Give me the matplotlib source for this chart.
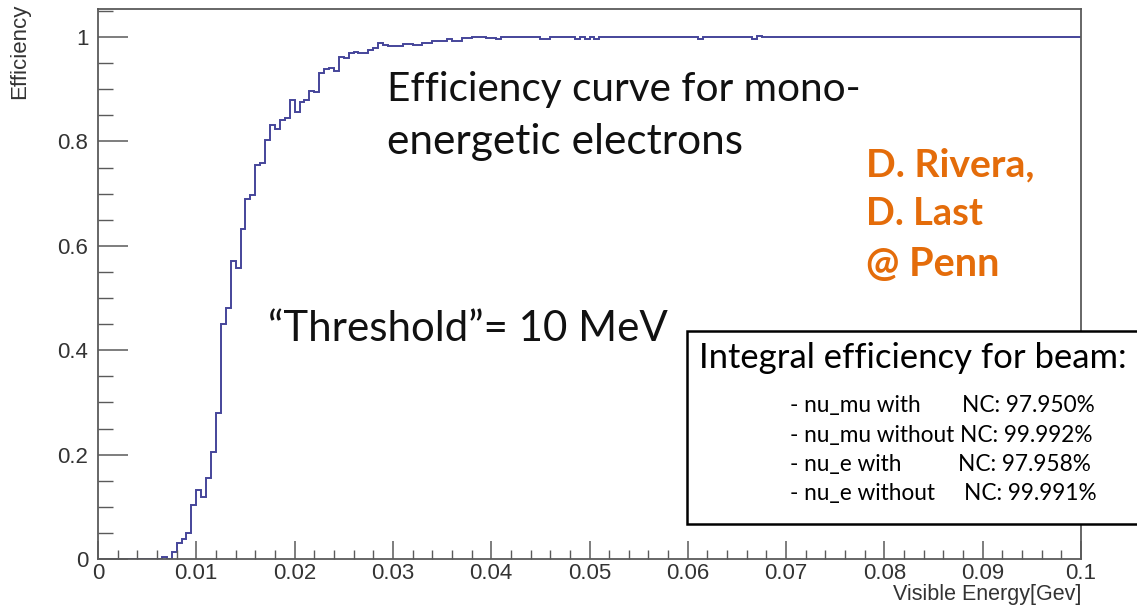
import numpy as np
import matplotlib
matplotlib.use("Agg")
import matplotlib.pyplot as plt
from matplotlib.ticker import MultipleLocator, FixedFormatter, FixedLocator
from matplotlib.patches import Rectangle

# ---------------- data ----------------
bin_width = 0.0005
x_min, x_max = 0.0, 0.1
# efficiency values for bins starting at 0.0065 (earlier bins are zero)
first_bin_start = 0.0065
rise_values = [
    0.004, 0.0, 0.013, 0.031, 0.038, 0.050, 0.104, 0.132, 0.118, 0.155,
    0.205, 0.279, 0.450, 0.481, 0.571, 0.557, 0.632, 0.689, 0.697, 0.755,
    0.758, 0.803, 0.831, 0.823, 0.841, 0.845, 0.879, 0.856, 0.875, 0.879,
    0.896, 0.894, 0.931, 0.938, 0.941, 0.935, 0.962, 0.960, 0.969, 0.972,
    0.969, 0.969, 0.975, 0.979, 0.989, 0.985, 0.983, 0.983, 0.983, 0.986,
    0.986, 0.985, 0.985, 0.988, 0.988, 0.992, 0.992, 0.992, 0.996, 0.992,
    0.992, 0.998, 0.998, 1.000, 1.000, 1.000, 0.998, 0.998, 0.996, 1.000,
    1.000, 1.000, 1.000, 1.000, 1.000, 1.000, 1.000, 0.997, 0.997, 1.000,
    1.000, 1.000, 1.000, 1.000, 0.997, 1.000, 0.997, 1.000, 0.997, 1.000,
    1.000, 1.000, 1.000, 1.000, 1.000, 1.000, 1.000, 1.000, 1.000, 1.000,
    1.000, 1.000, 1.000, 1.000, 1.000, 1.000, 1.000, 1.000, 1.000, 0.997,
    1.000, 1.000, 1.000, 1.000, 1.000, 1.000, 1.000, 1.000, 1.000, 1.000,
    0.997, 1.002, 1.000,
]
x_ticks = [0, 0.01, 0.02, 0.03, 0.04, 0.05, 0.06, 0.07, 0.08, 0.09, 0.1]
x_tick_labels = ["0", "0.01", "0.02", "0.03", "0.04", "0.05", "0.06", "0.07", "0.08", "0.09", "0.1"]
y_ticks = [0, 0.2, 0.4, 0.6, 0.8, 1.0]
y_tick_labels = ["0", "0.2", "0.4", "0.6", "0.8", "1"]
x_label = "Visible Energy[Gev]"
y_label = "Efficiency"
title_lines = ["Efficiency curve for mono-", "energetic electrons"]
author_lines = ["D. Rivera,", "D. Last", "@ Penn"]
threshold_text = "\u201cThreshold\u201d= 10 MeV"
box_title = "Integral efficiency for beam:"
box_left = ["- nu_mu with", "- nu_mu without", "- nu_e with", "- nu_e without"]
box_right = ["NC: 97.950%", "NC: 99.992%", "NC: 97.958%", "NC: 99.991%"]

# build full bin array
n_bins = int(round((x_max - x_min) / bin_width))
edges = np.linspace(x_min, x_max, n_bins + 1)
values = np.zeros(n_bins)
start_idx = int(round((first_bin_start - x_min) / bin_width))
for i, v in enumerate(rise_values):
    values[start_idx + i] = v
values[start_idx + len(rise_values):] = 1.0

# ---------------- figure ----------------
W, H = 1137, 606
fig = plt.figure(figsize=(W / 100, H / 100), dpi=100)
fig.patch.set_facecolor("white")

def px(x, y):
    return x / W, 1 - y / H

L, R, T, B = 98, 1081, 9, 559
ax = fig.add_axes([L / W, (H - B) / H, (R - L) / W, (B - T) / H])
ax.set_xlim(x_min, x_max)
ax.set_ylim(0, (B - T) / 522.0)

ax.stairs(values, edges, color="#45459a", linewidth=1.4, baseline=None)

frame_col = "#5a5a5a"
for s in ax.spines.values():
    s.set_color(frame_col)
    s.set_linewidth(1.3)

ax.xaxis.set_major_locator(FixedLocator(x_ticks))
ax.xaxis.set_major_formatter(FixedFormatter(x_tick_labels))
ax.xaxis.set_minor_locator(MultipleLocator(0.002))
ax.yaxis.set_major_locator(FixedLocator(y_ticks))
ax.yaxis.set_major_formatter(FixedFormatter(y_tick_labels))
ax.yaxis.set_minor_locator(MultipleLocator(0.05))

sans = ["Liberation Sans", "DejaVu Sans"]
ax.tick_params(axis="x", which="major", direction="in", length=13, width=1.1,
               color=frame_col, labelsize=16, labelcolor="#333333", pad=3, top=False)
ax.tick_params(axis="x", which="minor", direction="in", length=6.5, width=1.0,
               color=frame_col, top=False)
ax.tick_params(axis="y", which="major", direction="in", length=21.6, width=1.1,
               color=frame_col, labelsize=16, labelcolor="#333333", pad=7, right=False)
ax.tick_params(axis="y", which="minor", direction="in", length=10.8, width=1.0,
               color=frame_col, right=False)
for lab in ax.get_xticklabels() + ax.get_yticklabels():
    lab.set_fontfamily(sans)

fig.text(*px(R, 600), x_label, ha="right", va="baseline",
         fontsize=15.5, color="#333333", family=sans)
fig.text(*px(20, 4), y_label, rotation=90, ha="center", va="top",
         fontsize=16, color="#333333", family=sans)

# ------------- annotations -------------
renderer = fig.canvas.get_renderer()

def fit_text(x, y, s, width, fs0=20, **kw):
    t = fig.text(*px(x, y), s, fontsize=fs0, ha="left", va="baseline", **kw)
    w = t.get_window_extent(renderer=renderer).width
    t.set_fontsize(fs0 * width / w)
    return t

ann_font = ["Lato", "DejaVu Sans"]
fit_text(387, 101, title_lines[0], 475, family=ann_font, color="#111111")
fit_text(387, 154, title_lines[1], 358, family=ann_font, color="#111111")
fit_text(268, 341, threshold_text, 400, family=ann_font, color="#111111")

orange = "#E46C0A"
fit_text(866, 176, author_lines[0], 169, family=ann_font, color=orange, fontweight="bold")
fit_text(866, 225, author_lines[1], 117, family=ann_font, color=orange, fontweight="bold")
fit_text(866, 276, author_lines[2], 134, family=ann_font, color=orange, fontweight="bold")

# box
rect = Rectangle(px(687, 524), (W + 20 - 687) / W, (524 - 331) / H,
                 transform=fig.transFigure, facecolor="white", edgecolor="black",
                 linewidth=1.8, zorder=5)
fig.patches.append(rect)
t = fit_text(699, 368, box_title, 428, family=ann_font, color="black")
t.set_zorder(6)

base_ys = [412, 442, 471, 500]
right_x = [962, 960, 958, 964]
t = fit_text(790, base_ys[1], box_left[1] + " " + box_right[1], 304, family=ann_font, color="black")
fs_lines = t.get_fontsize()
t.remove()
for i in range(4):
    fig.text(*px(790, base_ys[i]), box_left[i], fontsize=fs_lines, ha="left",
             va="baseline", family=ann_font, color="black", zorder=6)
    fig.text(*px(right_x[i], base_ys[i]), box_right[i], fontsize=fs_lines, ha="left",
             va="baseline", family=ann_font, color="black", zorder=6)

fig.savefig("out.png", dpi=100, facecolor="white")
